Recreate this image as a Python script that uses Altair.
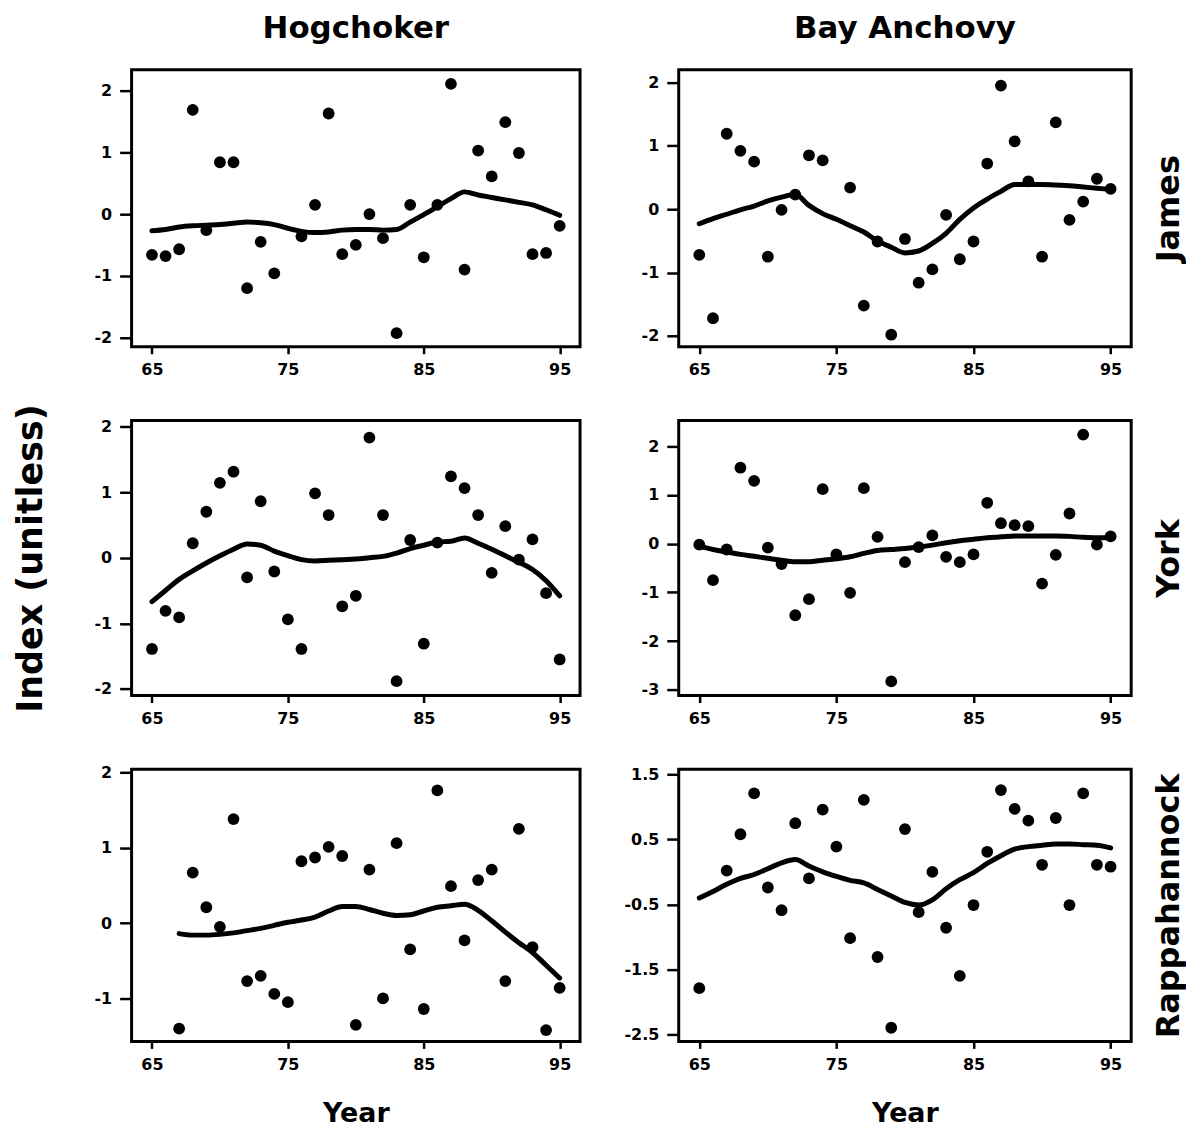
import altair as alt
import pandas as pd

YEARS = list(range(65, 96))
X_TICKS = [65, 75, 85, 95]

# Hogchoker, James
HOG_JAMES = [-0.66, -0.68, -0.57, 1.69, -0.26, 0.84, 0.84, -1.20, -0.45, -0.96, None,
             -0.36, 0.15, 1.63, -0.65, -0.50, 0.00, -0.39, -1.93, 0.15, -0.70,
             0.15, 2.11, -0.90, 1.03, 0.61, 1.49, 0.99, -0.65, -0.63, -0.19]
HOG_JAMES_SMOOTH = [-0.27, -0.25, -0.21, -0.19, -0.18, -0.17, -0.15, -0.13, -0.14, -0.17, -0.23,
                    -0.28, -0.30, -0.29, -0.26, -0.25, -0.25, -0.26, -0.25, -0.13, -0.01,
                    0.12, 0.25, 0.36, 0.31, 0.27, 0.23, 0.19, 0.15, 0.07, -0.02]

# Bay Anchovy, James
BAY_JAMES = [-0.72, -1.72, 1.19, 0.92, 0.75, -0.75, -0.01, 0.23, 0.85, 0.77, None,
             0.34, -1.52, -0.51, -1.98, -0.47, -1.16, -0.95, -0.09, -0.79, -0.51,
             0.72, 1.95, 1.07, 0.44, -0.75, 1.37, -0.17, 0.12, 0.48, 0.32]
BAY_JAMES_SMOOTH = [-0.23, -0.15, -0.08, -0.01, 0.05, 0.13, 0.19, 0.23, 0.06, -0.07, -0.16,
                    -0.26, -0.36, -0.50, -0.60, -0.69, -0.66, -0.54, -0.38, -0.16, 0.02,
                    0.16, 0.28, 0.39, 0.39, 0.39, 0.38, 0.37, 0.35, 0.33, 0.31]

# Hogchoker, York
HOG_YORK = [-1.39, -0.81, -0.91, 0.22, 0.70, 1.14, 1.31, -0.30, 0.86, -0.21, -0.94,
            -1.39, 0.98, 0.65, -0.74, -0.58, 1.83, 0.65, -1.88, 0.27, -1.31,
            0.23, 1.24, 1.06, 0.65, -0.23, 0.48, -0.03, 0.28, -0.54, -1.55]
HOG_YORK_SMOOTH = [-0.67, -0.50, -0.33, -0.20, -0.08, 0.03, 0.13, 0.21, 0.19, 0.10, 0.03,
                   -0.03, -0.05, -0.04, -0.03, -0.02, 0.00, 0.02, 0.07, 0.14, 0.19,
                   0.24, 0.25, 0.30, 0.22, 0.13, 0.03, -0.07, -0.18, -0.35, -0.58]

# Bay Anchovy, York
BAY_YORK = [-0.02, -0.75, -0.12, 1.56, 1.29, -0.08, -0.42, -1.47, -1.14, 1.12, -0.22,
            -1.01, 1.14, 0.14, -2.83, -0.38, -0.07, 0.17, -0.27, -0.38, -0.22,
            0.84, 0.42, 0.38, 0.36, -0.82, -0.23, 0.62, 2.24, -0.02, 0.15]
BAY_YORK_SMOOTH = [-0.05, -0.12, -0.17, -0.22, -0.26, -0.30, -0.34, -0.37, -0.37, -0.34, -0.31,
                   -0.27, -0.20, -0.14, -0.12, -0.10, -0.07, -0.03, 0.02, 0.06, 0.09,
                   0.12, 0.14, 0.16, 0.16, 0.16, 0.16, 0.15, 0.13, 0.12, 0.12]

# Hogchoker, Rappahannock
HOG_RAPP = [None, None, -1.40, 0.67, 0.21, -0.05, 1.38, -0.77, -0.70, -0.94, -1.05,
            0.82, 0.87, 1.01, 0.89, -1.35, 0.71, -1.00, 1.06, -0.35, -1.14,
            1.76, 0.49, -0.23, 0.57, 0.71, -0.77, 1.25, -0.32, -1.42, -0.86]
HOG_RAPP_SMOOTH = [None, None, -0.14, -0.16, -0.16, -0.15, -0.13, -0.10, -0.07, -0.03, 0.01,
                   0.04, 0.08, 0.16, 0.22, 0.22, 0.18, 0.13, 0.10, 0.11, 0.16,
                   0.21, 0.23, 0.25, 0.17, 0.03, -0.12, -0.26, -0.39, -0.56, -0.73]

# Bay Anchovy, Rappahannock
BAY_RAPP = [-1.79, None, 0.02, 0.58, 1.21, -0.24, -0.59, 0.75, -0.10, 0.96, 0.39,
            -1.02, 1.11, -1.31, -2.40, 0.66, -0.62, 0.00, -0.86, -1.60, -0.51,
            0.31, 1.26, 0.97, 0.79, 0.11, 0.83, -0.51, 1.21, 0.11, 0.08]
BAY_RAPP_SMOOTH = [-0.40, -0.30, -0.19, -0.10, -0.04, 0.05, 0.14, 0.19, 0.09, 0.00, -0.07,
                   -0.13, -0.17, -0.27, -0.37, -0.47, -0.51, -0.43, -0.26, -0.12, -0.01,
                   0.13, 0.25, 0.35, 0.39, 0.41, 0.43, 0.43, 0.42, 0.41, 0.37]

TICKS_INT_2 = [-2, -1, 0, 1, 2]
TICKS_INT_3 = [-3, -2, -1, 0, 1, 2]
TICKS_INT_R = [-1, 0, 1, 2]
TICKS_HALF = [-2.5, -1.5, -0.5, 0.5, 1.5]

FONT = "DejaVu Sans"
X_DOMAIN = [63.5, 96.5]
MINUS_FIX = "replace(datum.label, '\u2212', '-')"


def make_panel(points, smooth, y_domain, y_ticks, y_format, width, height,
               top_title="", row_label="", y_title="", x_title=""):
    pts_df = pd.DataFrame({"year": YEARS, "value": points}).dropna()
    sm_df = pd.DataFrame({"year": YEARS, "value": smooth}).dropna()

    x_kw = dict(values=X_TICKS, format="d", tickSize=7, labelPadding=8,
                minExtent=30, maxExtent=30)
    if x_title:
        x_kw.update(title=x_title, titleFontSize=27, titlePadding=29, titleFont=FONT,
                    titleFontWeight="bold", titleBaseline="top")
    else:
        x_kw.update(title=None)
    x_enc = alt.X("year:Q", scale=alt.Scale(domain=X_DOMAIN, nice=False, zero=False),
                  axis=alt.Axis(**x_kw))

    y_scale = alt.Scale(domain=y_domain, nice=False, zero=False)
    y_kw = dict(orient="left", values=y_ticks, format=y_format, labelExpr=MINUS_FIX,
                tickSize=12, labelPadding=8, minExtent=45, maxExtent=45)
    if y_title:
        y_kw.update(title=y_title, titleFontSize=35, titlePadding=38, titleFont=FONT,
                    titleFontWeight="bold")
    else:
        y_kw.update(title=None)

    pts = alt.Chart(pts_df).mark_circle(size=140, color="black", opacity=1).encode(
        x=x_enc, y=alt.Y("value:Q", scale=y_scale, axis=alt.Axis(**y_kw)))

    if row_label:
        line_axis = alt.Axis(orient="right", title=row_label, labels=False, ticks=False,
                             domain=False, grid=False, titleAngle=270, titleBaseline="top",
                             titlePadding=22, titleFontSize=32, titleFont=FONT,
                             titleFontWeight="bold", minExtent=0, maxExtent=0)
    else:
        line_axis = alt.Axis(**y_kw)
    line = alt.Chart(sm_df).mark_line(color="black", strokeWidth=5, interpolate="monotone",
                                      strokeCap="round", strokeJoin="round").encode(
        x=x_enc, y=alt.Y("value:Q", scale=y_scale, axis=line_axis))

    ch = alt.layer(line, pts).properties(width=width, height=height)
    if top_title:
        ch = ch.properties(title=alt.TitleParams(top_title, fontSize=31, font=FONT,
                                                 fontWeight="bold", anchor="middle",
                                                 frame="group", offset=1,
                                                 baseline="alphabetic", color="black"))
    return ch


p11 = make_panel(HOG_JAMES, HOG_JAMES_SMOOTH, [-2.15, 2.34], TICKS_INT_2, "d", 450, 278,
                 top_title="Hogchoker")
p12 = make_panel(BAY_JAMES, BAY_JAMES_SMOOTH, [-2.17, 2.2], TICKS_INT_2, "d", 454, 278,
                 top_title="Bay Anchovy", row_label="James")
p21 = make_panel(HOG_YORK, HOG_YORK_SMOOTH, [-2.1, 2.09], TICKS_INT_2, "d", 450, 276,
                 y_title="Index (unitless)")
p22 = make_panel(BAY_YORK, BAY_YORK_SMOOTH, [-3.12, 2.53], TICKS_INT_3, "d", 454, 276,
                 row_label="York")
p31 = make_panel(HOG_RAPP, HOG_RAPP_SMOOTH, [-1.57, 2.04], TICKS_INT_R, "d", 450, 273,
                 x_title="Year")
p32 = make_panel(BAY_RAPP, BAY_RAPP_SMOOTH, [-2.61, 1.58], TICKS_HALF, ".1f", 454, 273,
                 row_label="Rappahannock", x_title="Year")

chart = alt.concat(
    p11, p12, p21, p22, p31, p32, columns=2, bounds="flush",
    spacing=alt.RowColnumber(row=74, column=99)
).properties(
    padding={"left": 4, "top": 1, "right": 0, "bottom": 0},
    background="white"
).configure_view(
    stroke="black", strokeWidth=3
).configure_axis(
    labelFont=FONT, labelFontWeight="bold", labelFontSize=16, labelColor="black",
    tickColor="black", tickWidth=2.5, domain=False, grid=False, titleColor="black"
)

chart.save("out.html", embed_options={"renderer": "svg", "actions": False})
